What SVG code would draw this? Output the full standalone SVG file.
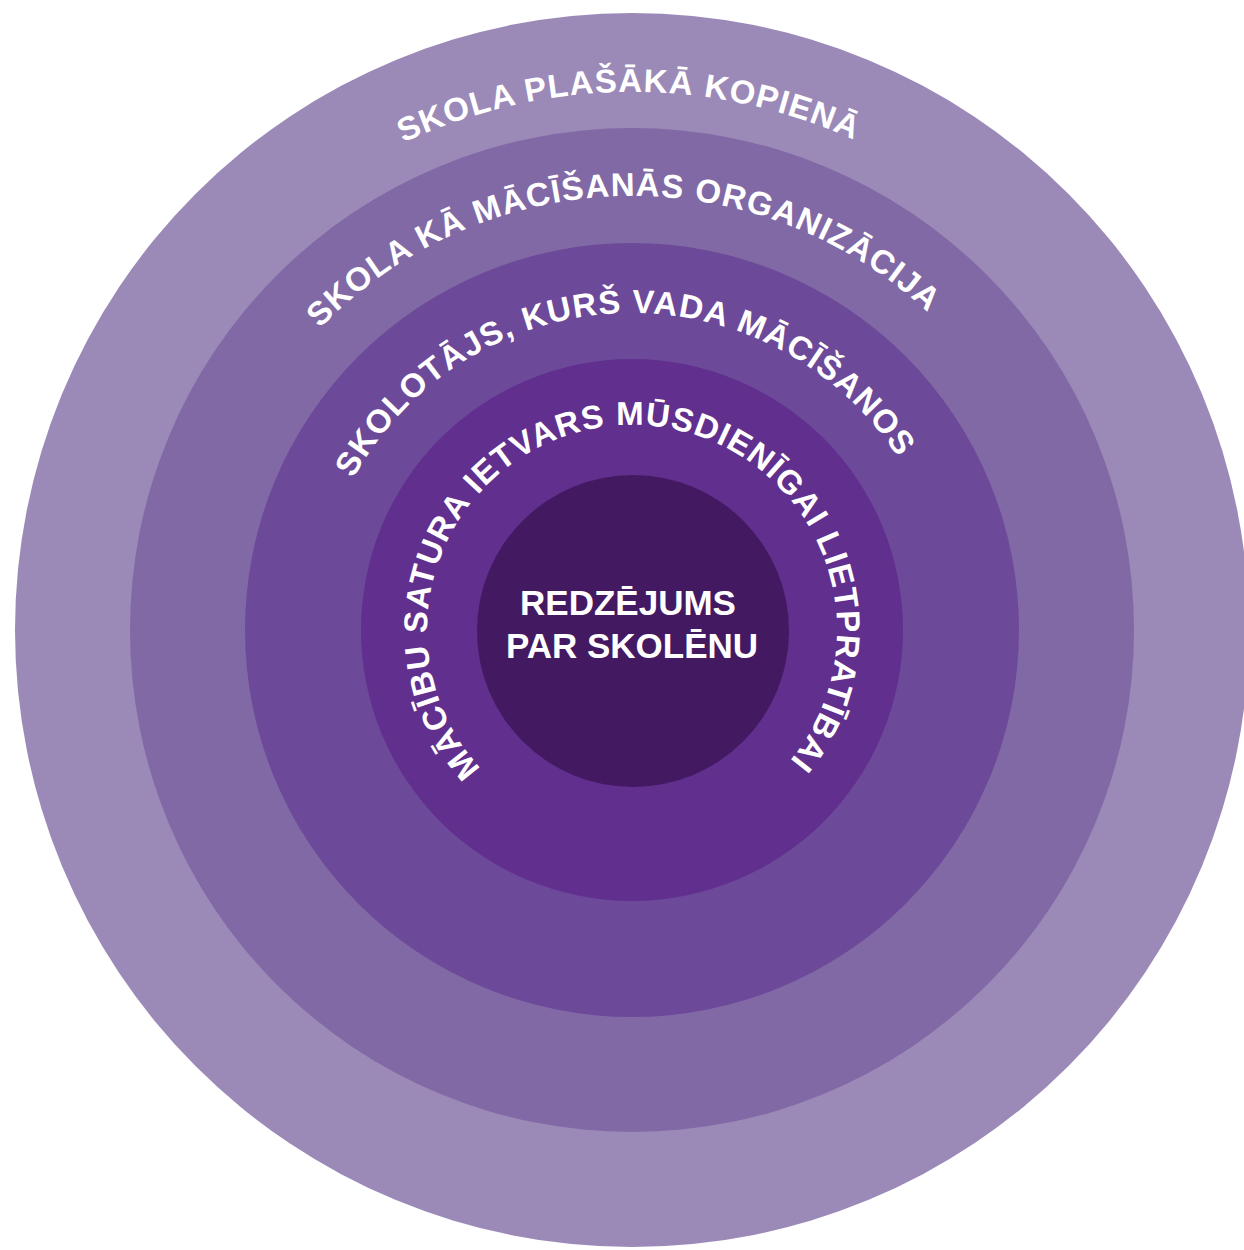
<svg xmlns="http://www.w3.org/2000/svg" xmlns:xlink="http://www.w3.org/1999/xlink" width="1244" height="1250" viewBox="0 0 1244 1250">
  <style>
    .lbl { font-family: "Liberation Sans", Arial, sans-serif; font-weight: bold; fill: #ffffff; }
    .arc { font-size: 33px; letter-spacing: 1.1px; }
    .ctr { font-size: 35px; text-anchor: middle; }
  </style>
  <defs>
    <path id="p1" d="M 632,1168 A 538 538 0 1 1 632,92 A 538 538 0 1 1 632,1168"/>
    <path id="p2" d="M 632,1064 A 434 434 0 1 1 632,196 A 434 434 0 1 1 632,1064"/>
    <path id="p3" d="M 632,947 A 317 317 0 1 1 632,313 A 317 317 0 1 1 632,947"/>
    <path id="p4" d="M 632,835 A 205 205 0 1 1 632,425 A 205 205 0 1 1 632,835"/>
  </defs>
  <rect width="1244" height="1250" fill="#ffffff"/>
  <g id="ring-community">
    <circle cx="632" cy="630" r="617" fill="#9b8ab8"/>
    <text class="lbl arc" text-anchor="middle"><textPath href="#p1" xlink:href="#p1" startOffset="49.9%">SKOLA PLAŠĀKĀ KOPIENĀ</textPath></text>
  </g>
  <g id="ring-organization">
    <circle cx="632" cy="630" r="502" fill="#8169a6"/>
    <text class="lbl arc" text-anchor="middle"><textPath href="#p2" xlink:href="#p2" startOffset="49.6%">SKOLA KĀ MĀCĪŠANĀS ORGANIZĀCIJA</textPath></text>
  </g>
  <g id="ring-teacher">
    <circle cx="632" cy="630" r="387" fill="#6d4999"/>
    <text class="lbl arc" text-anchor="middle"><textPath href="#p3" xlink:href="#p3" startOffset="49.4%">SKOLOTĀJS, KURŠ VADA MĀCĪŠANOS</textPath></text>
  </g>
  <g id="ring-curriculum">
    <circle cx="632" cy="630" r="271" fill="#612f8e"/>
    <text class="lbl arc" text-anchor="middle"><textPath href="#p4" xlink:href="#p4" startOffset="49.64%">MĀCĪBU SATURA IETVARS MŪSDIENĪGAI LIETPRATĪBAI</textPath></text>
  </g>
  <g id="core-student">
    <circle cx="633" cy="631" r="156" fill="#431962"/>
    <text class="lbl ctr" x="628" y="615">REDZĒJUMS</text>
    <text class="lbl ctr" x="632" y="658">PAR SKOLĒNU</text>
  </g>
  <g id="connectors"/>
</svg>
